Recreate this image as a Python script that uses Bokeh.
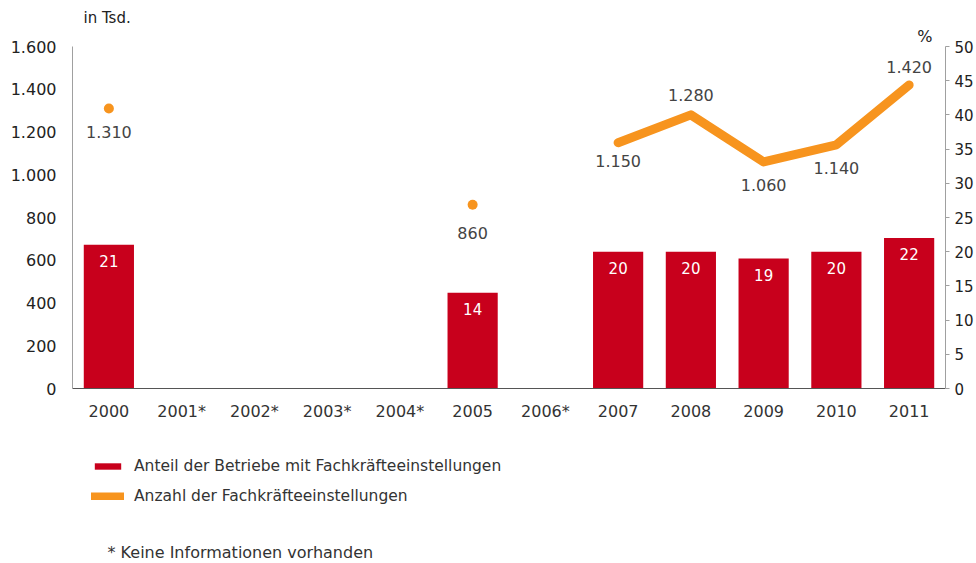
import math
from bokeh.plotting import figure
from bokeh.layouts import column
from bokeh.models import (ColumnDataSource, FactorRange, Range1d, LinearAxis, Title, Label,
                          Legend, LegendItem, FixedTicker)
from bokeh.core.properties import value
from bokeh.embed import file_html
from bokeh.resources import INLINE

nan = float("nan")

# ---- data ----
years = ["2000", "2001*", "2002*", "2003*", "2004*", "2005", "2006*",
         "2007", "2008", "2009", "2010", "2011"]
share_pct = [21, nan, nan, nan, nan, 14, nan, 20, 20, 19, 20, 22]
hires_tsd = [1310, nan, nan, nan, nan, 860, nan, 1150, 1280, 1060, 1140, 1420]
left_ticks = [0, 200, 400, 600, 800, 1000, 1200, 1400, 1600]
right_ticks = [0, 5, 10, 15, 20, 25, 30, 35, 40, 45, 50]
legend_labels = ["Anteil der Betriebe mit Fachkräfteeinstellungen",
                 "Anzahl der Fachkräfteeinstellungen"]
footnote = "* Keine Informationen vorhanden"

# label placement (pixels, + = down) for the hires labels, per year
hire_label_offset = [24, 0, 0, 0, 0, 28, 0, 18, -20, 23, 23, -18]

FONT = "DejaVu Sans"
FS = "16px"
RED = "#C8001C"
ORANGE = "#F7941E"
W = 976
H_TOP = 430
H_BOT = 133


def de(n):
    return f"{int(n):,}".replace(",", ".")


p = figure(width=W, height=H_TOP, x_range=FactorRange(*years, range_padding=0),
           y_range=Range1d(0, 1600), output_backend="svg", toolbar_location=None,
           title_location=None,
           min_border_left=72, min_border_right=30, min_border_top=46, min_border_bottom=42)
p.extra_y_ranges = {"pct": Range1d(0, 50)}
p.outline_line_color = None
p.grid.grid_line_color = None
p.background_fill_color = "white"

# bars (percentage, right axis)
bar_x = [y for y, v in zip(years, share_pct) if not math.isnan(v)]
bar_v = [v for v in share_pct if not math.isnan(v)]
bsrc = ColumnDataSource(dict(x=bar_x, top=bar_v, lab=[str(v) for v in bar_v]))
p.vbar(x="x", top="top", width=0.69, source=bsrc, y_range_name="pct",
       fill_color=RED, line_color=None)
p.text(x="x", y="top", text="lab", source=bsrc, y_range_name="pct",
       text_color="white", text_font=value(FONT), text_font_size="15px",
       text_align="center", text_baseline="middle", y_offset=16)

# line (thousands, left axis)
lsrc = ColumnDataSource(dict(x=years, y=hires_tsd))
p.line(x="x", y="y", source=lsrc, line_color=ORANGE, line_width=9,
       line_join="round", line_cap="round")

iso_x, iso_y = [], []
for i, v in enumerate(hires_tsd):
    if math.isnan(v):
        continue
    prev_nan = i == 0 or math.isnan(hires_tsd[i - 1])
    next_nan = i == len(hires_tsd) - 1 or math.isnan(hires_tsd[i + 1])
    if prev_nan and next_nan:
        iso_x.append(years[i])
        iso_y.append(v)
p.scatter(x=iso_x, y=iso_y, size=10, fill_color=ORANGE, line_color=None)

lab_x = [y for y, v in zip(years, hires_tsd) if not math.isnan(v)]
lab_y = [v for v in hires_tsd if not math.isnan(v)]
lab_o = [o for o, v in zip(hire_label_offset, hires_tsd) if not math.isnan(v)]
tsrc = ColumnDataSource(dict(x=lab_x, y=lab_y, t=[de(v) for v in lab_y], o=lab_o))
p.text(x="x", y="y", text="t", y_offset="o", source=tsrc, text_color="#444444",
       text_font=value(FONT), text_font_size=FS, text_align="center",
       text_baseline="middle")

# axes
p.yaxis.ticker = FixedTicker(ticks=left_ticks)
p.yaxis.major_label_overrides = {t: de(t) for t in left_ticks}
p.yaxis.axis_line_color = "#A0A0A0"
p.yaxis.major_tick_line_color = None
p.yaxis.minor_tick_line_color = None
p.yaxis.major_label_standoff = 10
p.yaxis.major_label_text_font = FONT
p.yaxis.major_label_text_font_size = FS
p.yaxis.major_label_text_color = "#222222"

ra = LinearAxis(y_range_name="pct", ticker=FixedTicker(ticks=right_ticks))
ra.axis_line_color = "#A0A0A0"
ra.major_tick_line_color = "#A0A0A0"
ra.major_tick_out = 4
ra.major_tick_in = 0
ra.minor_tick_line_color = None
ra.major_label_standoff = 5
ra.major_label_text_font = FONT
ra.major_label_text_font_size = "15px"
ra.major_label_text_color = "#222222"
p.add_layout(ra, "right")

p.xaxis.axis_line_color = "#555555"
p.xaxis.major_tick_line_color = None
p.xaxis.minor_tick_line_color = None
p.xaxis.major_label_standoff = 7
p.xaxis.major_label_text_font = FONT
p.xaxis.major_label_text_font_size = FS
p.xaxis.major_label_text_color = "#333333"

# unit labels (above the frame; first added sits nearest the frame)
p.add_layout(Title(text="%", align="right", offset=13, standoff=2,
                   text_font=FONT, text_font_size="16px", text_font_style="normal",
                   text_color="#222222"), "above")
p.add_layout(Title(text="in Tsd.", align="left", offset=11, standoff=-7,
                   text_font=FONT, text_font_size="15px", text_font_style="normal",
                   text_color="#222222"), "above")

# ---- legend + footnote panel (frame aligned with the chart above) ----
q = figure(width=W, height=H_BOT, x_range=Range1d(0, 874), y_range=Range1d(0, H_BOT),
           output_backend="svg", toolbar_location=None, title_location=None,
           x_axis_location=None, y_axis_location=None,
           min_border_left=0, min_border_right=0, min_border_top=0, min_border_bottom=0)
q.outline_line_color = None
q.grid.grid_line_color = None
# legend proxies placed outside the visible range
r_bar = q.vbar(x=[-500], top=[-500], bottom=[-501], width=1, fill_color=RED, line_color=None)
r_line = q.line(x=[-500, -499], y=[-500, -500], line_color=ORANGE, line_width=8,
                line_cap="round")

legend = Legend(items=[
    LegendItem(label=legend_labels[0], renderers=[r_bar]),
    LegendItem(label=legend_labels[1], renderers=[r_line]),
], location=(19, 57))
legend.glyph_width = 33
legend.glyph_height = 8
legend.label_height = 20
legend.spacing = 10
legend.label_standoff = 10
legend.padding = 0
legend.margin = 0
legend.border_line_color = None
legend.background_fill_alpha = 0
legend.label_text_font = FONT
legend.label_text_font_size = "15.5px"
legend.label_text_color = "#333333"
q.add_layout(legend)

q.add_layout(Label(x=35, y=11, x_units="screen", y_units="screen", text=footnote,
                   text_font=FONT, text_font_size="16px", text_color="#333333",
                   text_baseline="middle"))

open("out.html", "w").write(file_html(column(p, q, spacing=0), INLINE))
